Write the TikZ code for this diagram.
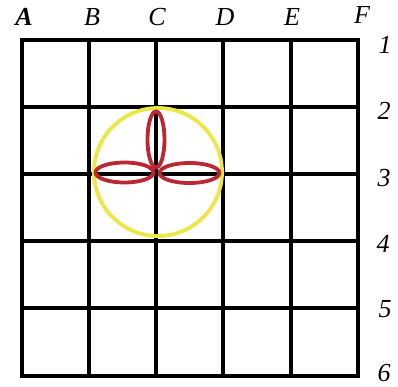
\documentclass[tikz,border=0pt]{standalone}
\usepackage{fontspec}
\setmainfont{Liberation Serif}
\begin{document}
\begin{tikzpicture}[x=1pt,y=-1pt,
  gridline/.style={line width=3.3pt,black},
  lbl/.style={font=\fontsize{26}{26}\selectfont\itshape,inner sep=0pt},
  ring/.style={line width=3.8pt,draw={rgb,255:red,236;green,230;blue,70}},
  petal/.style={line width=3.8pt,draw={rgb,255:red,186;green,40;blue,52}}]
\useasboundingbox (0,0) rectangle (398,387);
% grid
\foreach \x in {22,89,156,223,291,358} \draw[gridline] (\x,40) -- (\x,376);
\foreach \y in {40,107,174,241,308,376} \draw[gridline] (22,\y) -- (358,\y);
\draw[gridline] (22,40) rectangle (358,376);
% column labels
\node[lbl,font=\fontsize{26}{26}\selectfont\bfseries\itshape] (cA) at (24,17) {A};
\node[lbl] (cB) at (92,17) {B};
\node[lbl] (cC) at (157,17) {C};
\node[lbl] (cD) at (225,17) {D};
\node[lbl] (cE) at (292,17) {E};
\node[lbl] (cF) at (362,15) {F};
% row labels
\node[lbl] (r1) at (385,45) {1};
\node[lbl] (r2) at (384,111) {2};
\node[lbl] (r3) at (384,178) {3};
\node[lbl] (r4) at (383,244) {4};
\node[lbl] (r5) at (385,309) {5};
\node[lbl] (r6) at (384,373) {6};
% circle and petals
\draw[ring] (158,172) circle (64);
\draw[petal] (156,139.5) ellipse (8.5 and 28);
\draw[petal] (124.5,172.5) ellipse (29 and 10);
\draw[petal] (189.5,173) ellipse (30 and 10);
\end{tikzpicture}
\end{document}
